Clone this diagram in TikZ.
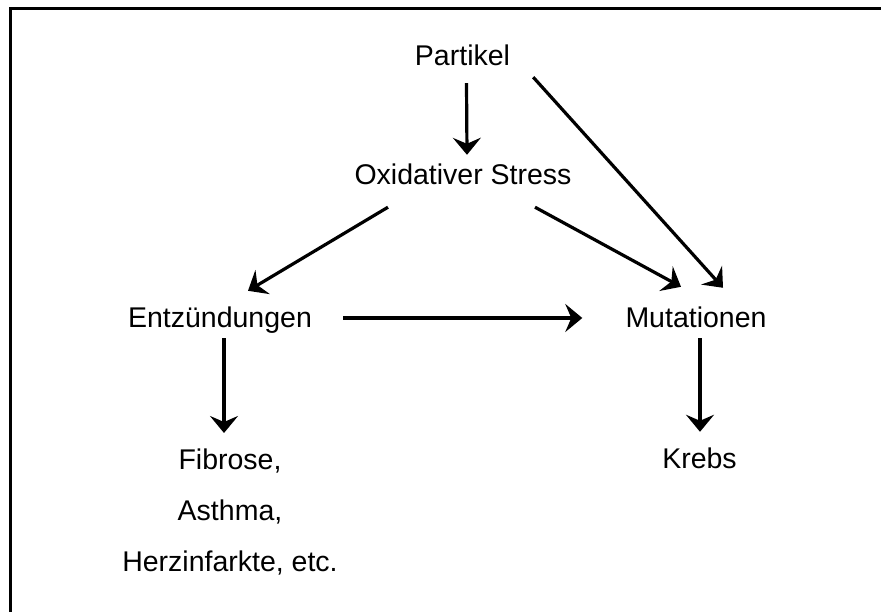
\documentclass[tikz,border=0pt]{standalone}
\usepackage{fontspec}
\setmainfont{Liberation Sans}
\usepackage{tikz}
\usetikzlibrary{arrows.meta}
\tikzset{
  begriff/.style = {anchor=base, inner sep=0pt, text height=21pt, text depth=6pt,
    font=\fontsize{28.5}{51}\selectfont},% Begriff im Schema
  liste/.style = {anchor=north, inner sep=0pt, align=center,
    font=\fontsize{28.5}{51}\selectfont},% mehrzeiliger Begriff
  pfeil/.style = {line width=3.2pt,
    -{Stealth[length=17pt, width=28pt, inset=6pt]}},% Wirkungspfeil
  rahmen/.style = {line width=3pt}
}

\begin{document}
\begin{tikzpicture}[x=1pt, y=1pt]
  \useasboundingbox (0,0) rectangle (881,612);
  \draw [rahmen] (10.5,0) -- (10.5,603.5) -- (881,603.5);

  \node [begriff] (part)  at (462.5,546) {Partikel};
  \node [begriff] (ox)    at (463,427)   {Oxidativer Stress};
  \node [begriff] (entz)  at (220,284)   {Entzündungen};
  \node [begriff] (mut)   at (696,284)   {Mutationen};
  \node [begriff] (krebs) at (699.5,143) {Krebs};
  \node [liste]   (fib)   at (230,163)   {Fibrose,\\Asthma,\\Herzinfarkte, etc.};

  \draw [pfeil] ([xshift=4pt,yshift=-11pt]part.south) -- ([xshift=4pt,yshift=9pt]ox.north);
  \draw [pfeil] ([xshift=23pt,yshift=-5pt]part.south east) -- ([xshift=27pt,yshift=19pt]mut.north);
  \draw [pfeil] ([xshift=72pt,yshift=-16pt]ox.south) -- ([xshift=-15pt,yshift=20pt]mut.north);
  \draw [pfeil] ([xshift=-75pt,yshift=-16pt]ox.south) -- ([xshift=28pt,yshift=16pt]entz.north);
  \draw [pfeil] ([xshift=31pt,yshift=2.5pt]entz.east) -- ([xshift=-43pt,yshift=2.5pt]mut.west);
  \draw [pfeil] ([xshift=4pt,yshift=-4pt]entz.south) -- ([xshift=-6pt,yshift=16pt]fib.north);
  \draw [pfeil] ([xshift=4pt,yshift=-4pt]mut.south) -- ([xshift=0.5pt,yshift=16pt]krebs.north);
\end{tikzpicture}
\end{document}
